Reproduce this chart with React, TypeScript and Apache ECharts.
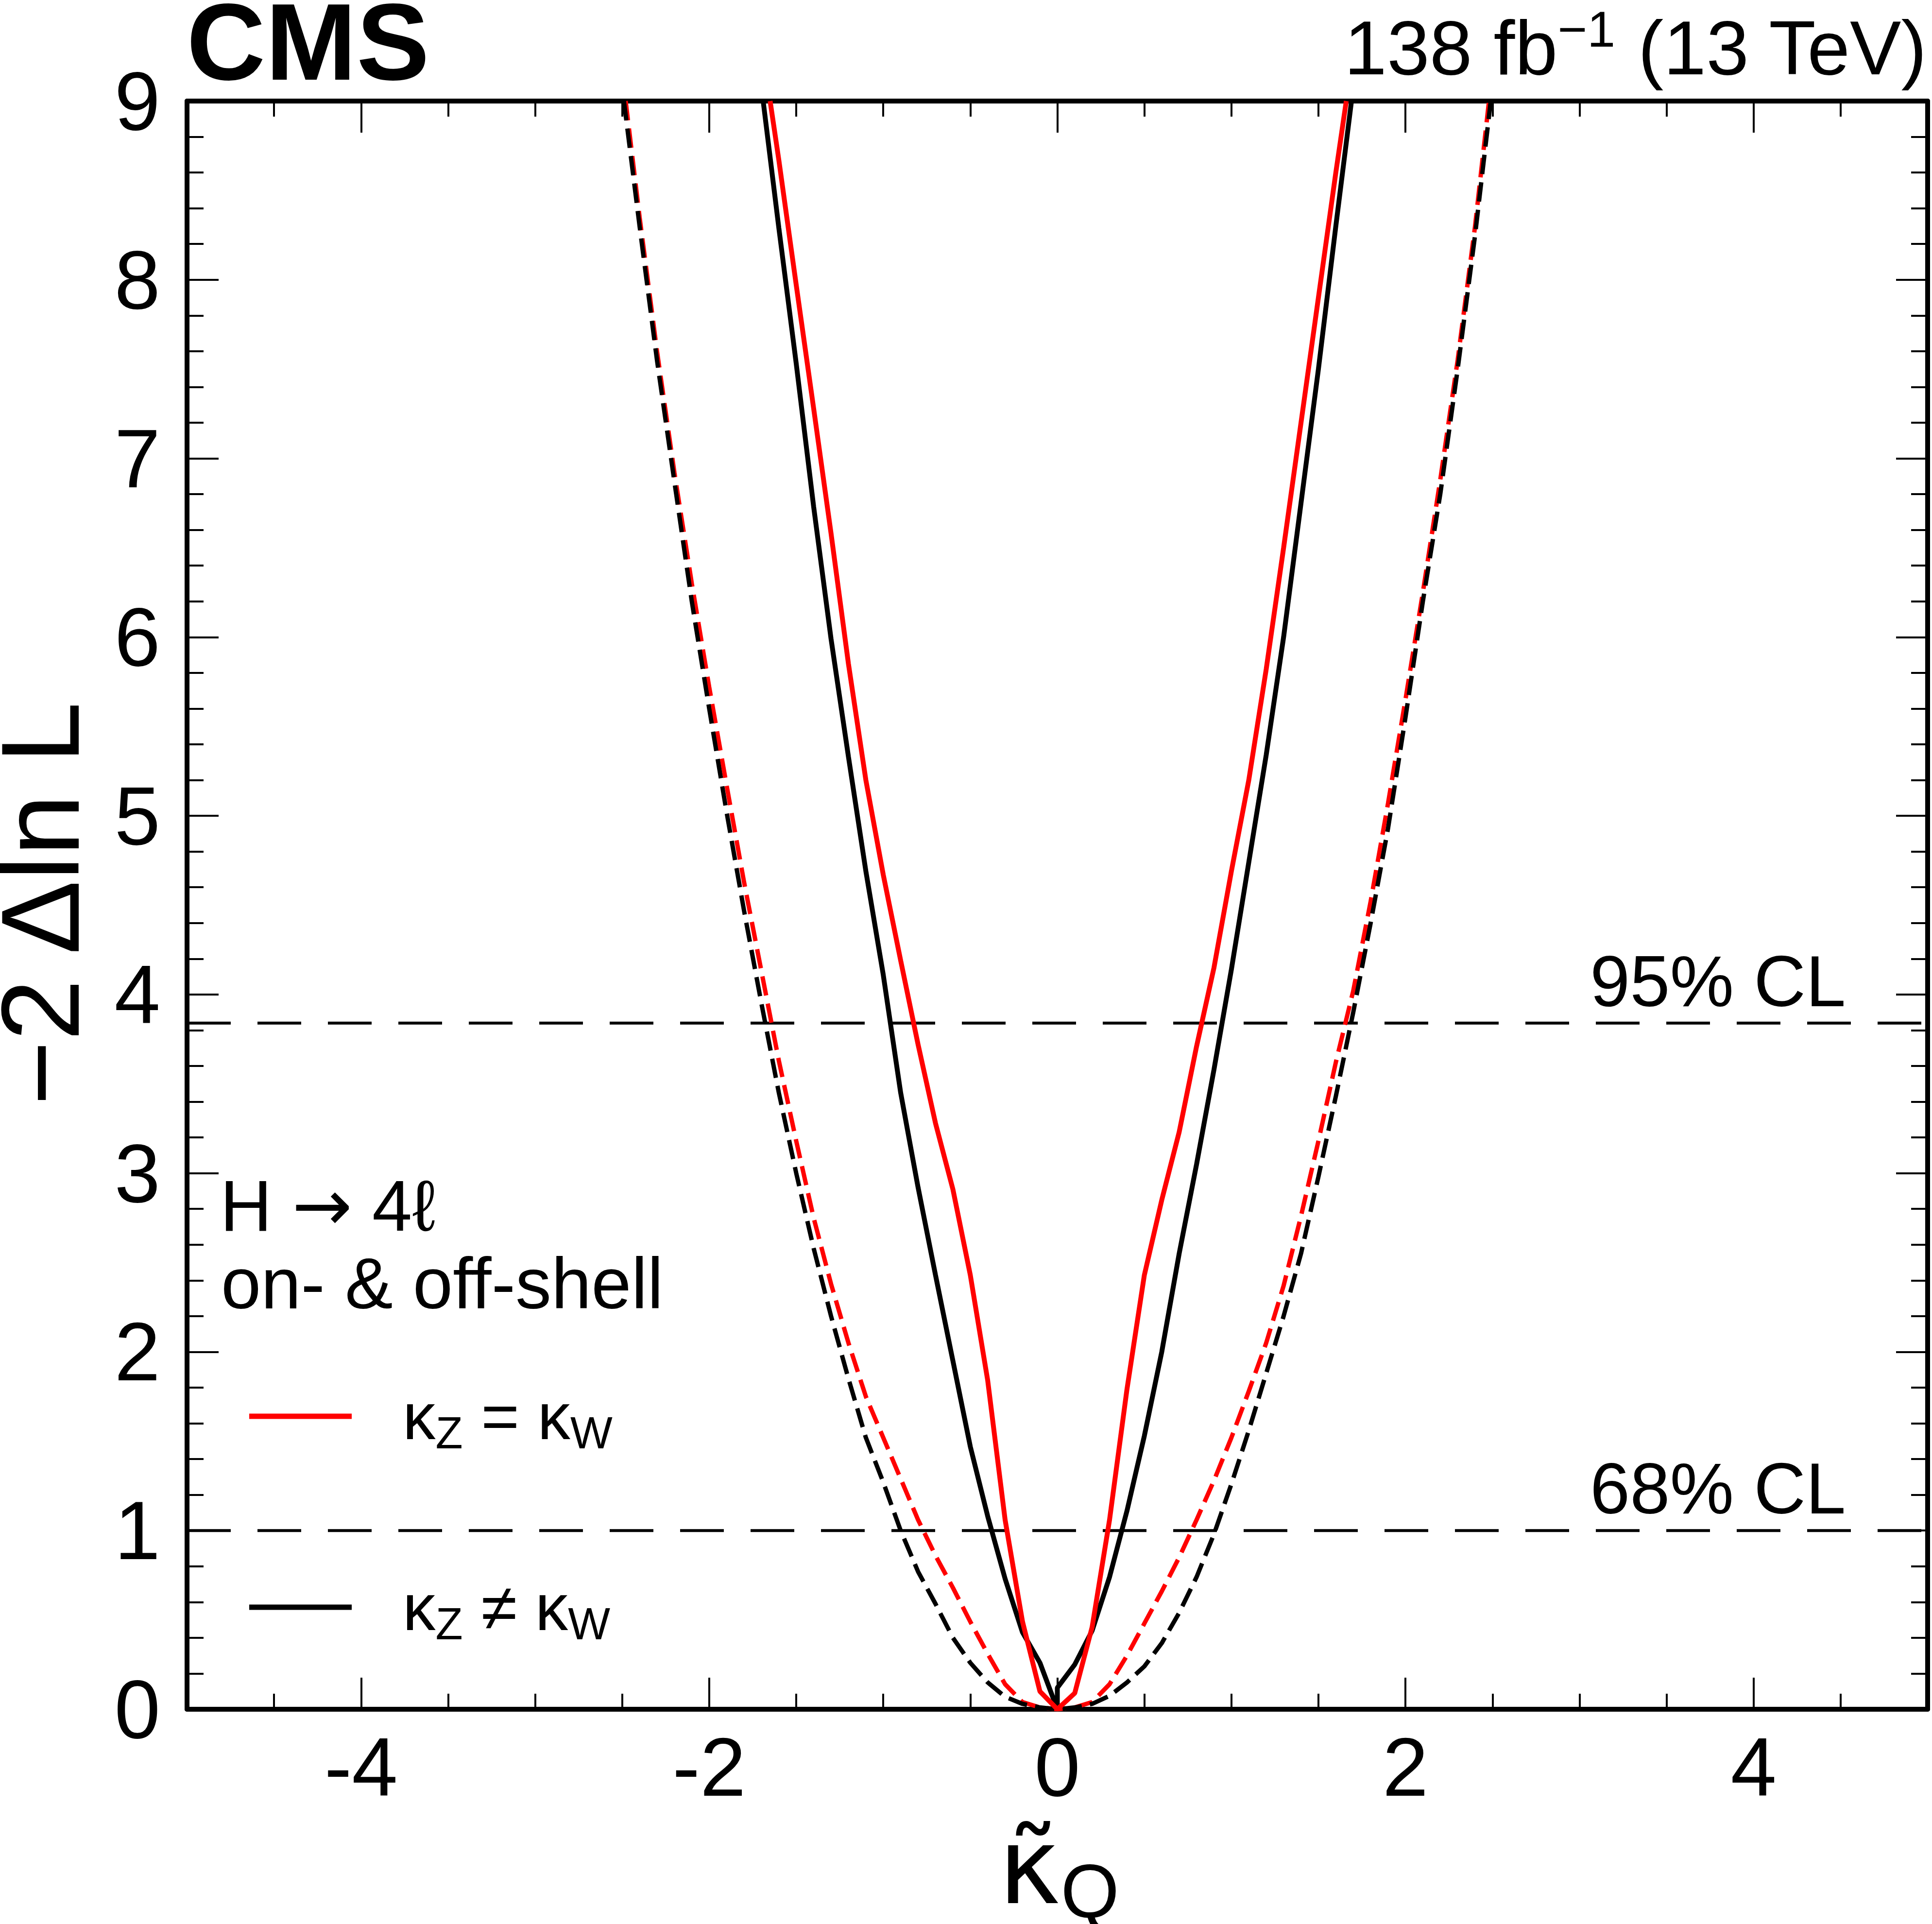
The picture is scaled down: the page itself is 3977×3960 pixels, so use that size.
import React, { useEffect, useRef } from "react";
import * as echarts from "echarts";

const W = 3977;
const H = 3960;
const FONT = "Liberation Sans";

// Observed, kappa_Z = kappa_W (red solid)
const redSolidX = [-1.65, -1.6, -1.5, -1.4, -1.3, -1.2, -1.1, -1.0, -0.9, -0.8, -0.7, -0.6, -0.5, -0.4, -0.3, -0.2, -0.1, 0, 0.1, 0.2, 0.3, 0.4, 0.5, 0.6, 0.7, 0.8, 0.9, 1.0, 1.1, 1.2, 1.3, 1.4, 1.5, 1.6, 1.66];
const redSolidY = [9.0, 8.67, 7.97, 7.28, 6.58, 5.85, 5.2, 4.67, 4.19, 3.72, 3.28, 2.91, 2.43, 1.84, 1.06, 0.49, 0.1, 0.0, 0.09, 0.46, 1.06, 1.79, 2.43, 2.85, 3.23, 3.71, 4.15, 4.69, 5.2, 5.82, 6.5, 7.2, 7.9, 8.6, 9.0];

// Observed, kappa_Z != kappa_W (black solid)
const blackSolidX = [-1.69, -1.6, -1.5, -1.4, -1.3, -1.2, -1.1, -1.0, -0.9, -0.8, -0.7, -0.6, -0.5, -0.4, -0.3, -0.2, -0.1, 0, 0, 0.1, 0.2, 0.3, 0.4, 0.5, 0.6, 0.7, 0.8, 0.9, 1.0, 1.1, 1.2, 1.3, 1.4, 1.5, 1.6, 1.69];
const blackSolidY = [9.0, 8.29, 7.53, 6.73, 5.99, 5.33, 4.69, 4.11, 3.45, 2.92, 2.43, 1.95, 1.47, 1.08, 0.73, 0.43, 0.26, 0.0, 0.12, 0.25, 0.44, 0.74, 1.11, 1.53, 2.0, 2.55, 3.05, 3.58, 4.14, 4.74, 5.34, 6.0, 6.75, 7.5, 8.3, 9.0];

// Expected, kappa_Z = kappa_W (red dashed)
const redDashX = [-2.48, -2.4, -2.3, -2.2, -2.1, -2.0, -1.9, -1.8, -1.7, -1.6, -1.5, -1.4, -1.3, -1.2, -1.1, -1.0, -0.9, -0.8, -0.7, -0.6, -0.5, -0.4, -0.3, -0.2, -0.1, 0, 0.1, 0.2, 0.3, 0.4, 0.5, 0.6, 0.7, 0.8, 0.9, 1.0, 1.1, 1.2, 1.3, 1.4, 1.5, 1.6, 1.7, 1.8, 1.9, 2.0, 2.1, 2.2, 2.3, 2.4, 2.48];
const redDashY = [9.0, 8.35, 7.6, 6.92, 6.3, 5.72, 5.17, 4.63, 4.13, 3.63, 3.18, 2.75, 2.38, 2.05, 1.75, 1.52, 1.29, 1.06, 0.86, 0.68, 0.49, 0.31, 0.14, 0.04, 0.01, 0.0, 0.01, 0.04, 0.14, 0.3, 0.48, 0.66, 0.85, 1.06, 1.28, 1.52, 1.78, 2.05, 2.37, 2.76, 3.18, 3.62, 4.02, 4.52, 5.07, 5.65, 6.25, 6.88, 7.55, 8.3, 9.0];

// Expected, kappa_Z != kappa_W (black dashed)
const blackDashX = [-2.49, -2.4, -2.3, -2.2, -2.1, -2.0, -1.9, -1.8, -1.7, -1.6, -1.5, -1.4, -1.3, -1.2, -1.1, -1.0, -0.9, -0.8, -0.7, -0.6, -0.5, -0.4, -0.3, -0.2, -0.1, 0, 0.1, 0.2, 0.3, 0.4, 0.5, 0.6, 0.7, 0.8, 0.9, 1.0, 1.1, 1.2, 1.3, 1.4, 1.5, 1.6, 1.7, 1.8, 1.9, 2.0, 2.1, 2.2, 2.3, 2.4, 2.49];
const blackDashY = [9.0, 8.3, 7.55, 6.87, 6.2, 5.6, 5.02, 4.47, 3.95, 3.45, 3.0, 2.58, 2.2, 1.85, 1.52, 1.27, 1.0, 0.77, 0.59, 0.4, 0.26, 0.15, 0.07, 0.03, 0.01, 0.0, 0.01, 0.03, 0.075, 0.15, 0.24, 0.37, 0.54, 0.74, 0.98, 1.26, 1.56, 1.88, 2.2, 2.55, 2.98, 3.43, 3.9, 4.4, 4.93, 5.55, 6.2, 6.8, 7.5, 8.25, 9.0];

// Confidence-level reference lines
const clLevels = [1, 3.84];
const clLabels = ["68% CL", "95% CL"];

// Axes
const xRange = [-5, 5];
const yRange = [0, 9];
const xMajorTicks = [-4, -2, 0, 2, 4];
const xMinorTicks = [-4.5, -4, -3.5, -3, -2.5, -2, -1.5, -1, -0.5, 0, 0.5, 1, 1.5, 2, 2.5, 3, 3.5, 4, 4.5];

const legendNames = ["κZ = κW", "κZ ≠ κW"];

const zip = (xs: number[], ys: number[]) => xs.map((x, i) => [x, ys[i]]);

export default function App() {
  const ref = useRef<HTMLDivElement>(null);

  useEffect(() => {
    document.body.style.margin = "0";
    const chart = echarts.init(ref.current!, null, { renderer: "svg" });

    const tickStyle = { color: "#000", width: 4 };
    const frameLine = { show: true, onZero: false, lineStyle: { color: "#000", width: 10 } };

    const xAxisBase = {
      type: "value",
      min: xRange[0],
      max: xRange[1],
      splitLine: { show: false },
    };
    const xAxes = [
      {
        ...xAxisBase,
        position: "bottom",
        axisLine: frameLine,
        axisTick: { show: true, inside: true, length: 65, customValues: xMajorTicks, lineStyle: tickStyle },
        axisLabel: { show: true, customValues: xMajorTicks, fontSize: 170, fontFamily: FONT, color: "#000", margin: 34 },
      },
      {
        ...xAxisBase,
        position: "bottom",
        axisLine: { show: false, onZero: false },
        axisTick: { show: true, inside: true, length: 32, customValues: xMinorTicks, lineStyle: tickStyle },
        axisLabel: { show: false },
      },
      {
        ...xAxisBase,
        position: "top",
        axisLine: frameLine,
        axisTick: { show: true, inside: true, length: 65, customValues: xMajorTicks, lineStyle: tickStyle },
        axisLabel: { show: false },
      },
      {
        ...xAxisBase,
        position: "top",
        axisLine: { show: false, onZero: false },
        axisTick: { show: true, inside: true, length: 32, customValues: xMinorTicks, lineStyle: tickStyle },
        axisLabel: { show: false },
      },
    ];

    const yAxisBase = {
      type: "value",
      min: yRange[0],
      max: yRange[1],
      interval: 1,
      axisLine: frameLine,
      axisTick: { show: true, inside: true, length: 65, lineStyle: tickStyle },
      minorTick: { show: true, splitNumber: 5, length: 34, lineStyle: tickStyle },
      splitLine: { show: false },
      minorSplitLine: { show: false },
    };
    const yAxes = [
      {
        ...yAxisBase,
        position: "left",
        axisLabel: { show: true, fontSize: 170, fontFamily: FONT, color: "#000", margin: 55 },
      },
      { ...yAxisBase, position: "right", axisLabel: { show: false } },
    ];

    const curve = (name: string, xs: number[], ys: number[], color: string, dashed: boolean) => ({
      name,
      type: "line",
      data: zip(xs, ys),
      showSymbol: false,
      symbol: "none",
      color,
      itemStyle: { color },
      lineStyle: { color, width: dashed ? 9 : 10, type: dashed ? [40, 17] : "solid" },
      silent: true,
      z: dashed ? 2 : 3,
    });

    const clSeries = clLevels.map((v, i) => ({
      name: clLabels[i],
      type: "line",
      data: [
        [xRange[0], v],
        [xRange[1], v],
      ],
      showSymbol: false,
      symbol: "none",
      color: "#000",
      lineStyle: { color: "#000", width: 6, type: [90, 55] },
      silent: true,
      z: 1,
    }));

    const legendRich = {
      k0: { fontSize: 135, fontFamily: FONT, color: "#000", lineHeight: 160, verticalAlign: "middle", padding: [0, 0, 0, 100] },
      k: { fontSize: 135, fontFamily: FONT, color: "#000", lineHeight: 160, verticalAlign: "middle" },
      s: { fontSize: 92, fontFamily: FONT, color: "#000", lineHeight: 92, verticalAlign: "bottom" },
    };
    const legendFmt = (name: string) =>
      name === legendNames[0] ? "{k0|κ}{s|Z}{k| = κ}{s|W}" : "{k0|κ}{s|Z}{k| ≠ κ}{s|W}";

    const legendTops = [2830, 3223];
    const legends = legendNames.map((n, i) => ({
      data: [n],
      orient: "vertical",
      left: 508,
      top: legendTops[i],
      icon: "rect",
      itemWidth: 211,
      itemHeight: 11,
      selectedMode: false,
      formatter: legendFmt,
      textStyle: { rich: legendRich, fontSize: 135, fontFamily: FONT, color: "#000", lineHeight: 160 },
    }));

    const txt = (text: string, x: number, y: number, fontSize: number, extra: any = {}) => ({
      type: "text",
      x,
      y,
      silent: true,
      z: 100,
      style: {
        text,
        fontSize,
        fontFamily: FONT,
        fill: "#000",
        align: "left",
        verticalAlign: "middle",
        lineHeight: Math.round(fontSize * 1.05),
        ...extra,
      },
    });

    const option: any = {
      animation: false,
      backgroundColor: "#fff",
      grid: {
        left: 385,
        top: 208,
        right: W - 3968,
        bottom: H - 3518,
        containLabel: false,
        outerBoundsMode: "none",
      },
      xAxis: xAxes,
      yAxis: yAxes,
      legend: legends,
      series: [
        ...clSeries,
        curve("exp κZ = κW", redDashX, redDashY, "#ff0000", true),
        curve("exp κZ ≠ κW", blackDashX, blackDashY, "#000000", true),
        curve(legendNames[1], blackSolidX, blackSolidY, "#000000", false),
        curve(legendNames[0], redSolidX, redSolidY, "#ff0000", false),
      ],
      graphic: {
        elements: [
          txt("CMS", 384, 86, 225, { fontWeight: "bold", lineHeight: 168 }),
          {
            type: "text",
            x: 3966,
            y: 98,
            silent: true,
            style: {
              text: "{a|138 fb}{s|−1}{a| (13 TeV)}",
              align: "right",
              verticalAlign: "middle",
              fill: "#000",
              rich: {
                a: { fontSize: 158, fontFamily: FONT, lineHeight: 180, verticalAlign: "middle", fill: "#000" },
                s: { fontSize: 104, fontFamily: FONT, lineHeight: 104, verticalAlign: "top", fill: "#000" },
              },
            },
          },
          {
            type: "text",
            x: 83,
            y: 1860,
            rotation: Math.PI / 2,
            silent: true,
            style: {
              text: "−2 Δln L",
              fontSize: 228,
              fontFamily: FONT,
              fill: "#000",
              align: "center",
              verticalAlign: "middle",
              lineHeight: 160,
            },
          },
          {
            type: "text",
            x: 2055,
            y: 3841,
            silent: true,
            style: {
              text: "{k|κ\u0303}{q|Q}",
              align: "left",
              verticalAlign: "middle",
              fill: "#000",
              rich: {
                k: { fontSize: 218, fontFamily: "DejaVu Sans", lineHeight: 260, verticalAlign: "middle", fill: "#000" },
                q: { fontSize: 155, fontFamily: FONT, lineHeight: 155, verticalAlign: "bottom", fill: "#000" },
              },
            },
          },
          {
            type: "text",
            x: 453,
            y: 2481,
            silent: true,
            style: {
              text: "{a|H }{r|→}{a| 4ℓ}",
              align: "left",
              verticalAlign: "middle",
              fill: "#000",
              rich: {
                a: { fontSize: 148, fontFamily: FONT, lineHeight: 155, verticalAlign: "middle", fill: "#000" },
                r: { fontSize: 148, fontFamily: "DejaVu Sans", lineHeight: 155, verticalAlign: "middle", fill: "#000" },
              },
            },
          },
          txt("on- & off-shell", 455, 2641, 148),
          txt(clLabels[1], 3273, 2019, 148),
          txt(clLabels[0], 3273, 3063, 148),
        ],
      },
    };

    chart.setOption(option);
    return () => chart.dispose();
  }, []);

  return (
    <div
      ref={ref}
      style={{ position: "absolute", left: 0, top: 0, width: W, height: H, background: "#fff" }}
    />
  );
}
